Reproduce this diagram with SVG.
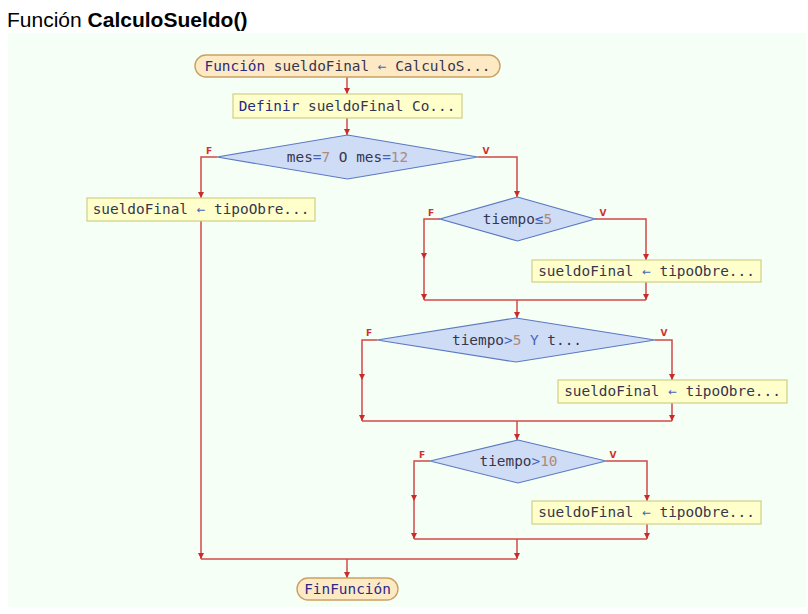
<svg xmlns="http://www.w3.org/2000/svg" width="808" height="614" viewBox="0 0 808 614">
<style>
.title{font-family:"Liberation Sans",Arial,sans-serif;font-size:21px;fill:#000}
.code{font-family:"DejaVu Sans Mono","Liberation Mono",monospace;font-size:14.4px;fill:#36364e;text-anchor:middle}
.kw{fill:#2a2a86}
.op{fill:#4664bc}
.num{fill:#ad8a7a}
.box{fill:#ffffcc;stroke:#cfcf86;stroke-width:1.2}
.dec{fill:#cfdcf6;stroke:#5b79c2;stroke-width:1.2}
.term{fill:#fde9c4;stroke:#c9a262;stroke-width:1.4}
.lbl{font-family:"DejaVu Sans","Liberation Sans",sans-serif;font-size:9px;font-weight:bold;fill:#d03030;text-anchor:middle}
.ln{fill:none;stroke:#d24848;stroke-width:1.5}
.a{marker-end:url(#arr)}
</style>
<defs>
<marker id="arr" viewBox="0 0 8 8" refX="8" refY="4" markerWidth="6" markerHeight="6" markerUnits="userSpaceOnUse" orient="auto">
<path d="M0,0 L8,4 L0,8 z" fill="#c92a2a"/>
</marker>
</defs>
<rect x="0" y="0" width="808" height="614" fill="#ffffff"/>
<rect x="8" y="33" width="798" height="574" fill="#f6fff6"/>
<text class="title" x="7" y="27">Función <tspan font-weight="bold">CalculoSueldo()</tspan></text>

<g id="connectors">
<path class="ln a" d="M347,77 L347,94"/>
<path class="ln a" d="M347,118 L347,135"/>
<path class="ln a" d="M217,157 L201,157 L201,198"/>
<path class="ln a" d="M478,157 L517,157 L517,197"/>
<path class="ln a" d="M201,221 L201,559"/>
<path class="ln a" d="M440,219 L424,219 L424,259"/>
<path class="ln a" d="M424,259 L424,300"/>
<path class="ln a" d="M595,219 L646,219 L646,260"/>
<path class="ln a" d="M646,282 L646,300"/>
<path class="ln" d="M424,300 L646,300"/>
<path class="ln a" d="M517,300 L517,318"/>
<path class="ln a" d="M377,340 L362,340 L362,380"/>
<path class="ln a" d="M362,380 L362,421"/>
<path class="ln a" d="M655,340 L672,340 L672,380"/>
<path class="ln a" d="M672,403 L672,421"/>
<path class="ln" d="M362,421 L672,421"/>
<path class="ln a" d="M517,421 L517,440"/>
<path class="ln a" d="M430,461 L414,461 L414,501"/>
<path class="ln a" d="M414,501 L414,539"/>
<path class="ln a" d="M606,461 L647,461 L647,501"/>
<path class="ln a" d="M647,524 L647,539"/>
<path class="ln" d="M414,539 L647,539"/>
<path class="ln a" d="M517,539 L517,559"/>
<path class="ln" d="M201,559 L517,559"/>
<path class="ln a" d="M347,559 L347,578"/>
<text class="lbl" x="209" y="154">F</text>
<text class="lbl" x="486" y="154">V</text>
<text class="lbl" x="431" y="216">F</text>
<text class="lbl" x="603" y="216">V</text>
<text class="lbl" x="369" y="336">F</text>
<text class="lbl" x="664" y="336">V</text>
<text class="lbl" x="422" y="458">F</text>
<text class="lbl" x="613" y="458">V</text>
</g>

<g id="start">
<rect class="term" x="195" y="55" width="305" height="22" rx="11" ry="11"/>
<text class="code" x="347.5" y="71"><tspan class="kw">Función</tspan> sueldoFinal <tspan class="op">←</tspan> CalculoS...</text>
</g>
<g id="definir">
<rect class="box" x="233" y="94" width="229" height="24"/>
<text class="code" x="347" y="111"><tspan class="kw">Definir</tspan> sueldoFinal Co...</text>
</g>
<g id="cond1">
<polygon class="dec" points="347.5,135 478,157 347.5,179 217,157"/>
<text class="code" x="347.5" y="162">mes<tspan class="op">=</tspan><tspan class="num">7</tspan> O mes<tspan class="op">=</tspan><tspan class="num">12</tspan></text>
</g>
<g id="asig1">
<rect class="box" x="87" y="198" width="228" height="23"/>
<text class="code" x="201" y="214">sueldoFinal <tspan class="op">←</tspan> tipoObre...</text>
</g>
<g id="cond2">
<polygon class="dec" points="517.5,197 595,219 517.5,241 440,219"/>
<text class="code" x="517.5" y="224">tiempo<tspan class="op">≤</tspan><tspan class="num">5</tspan></text>
</g>
<g id="asig2">
<rect class="box" x="532" y="260" width="229" height="22"/>
<text class="code" x="646.5" y="276">sueldoFinal <tspan class="op">←</tspan> tipoObre...</text>
</g>
<g id="cond3">
<polygon class="dec" points="516,318 655,340 516,362 377,340"/>
<text class="code" x="517" y="345">tiempo<tspan class="op">&gt;</tspan><tspan class="num">5</tspan> <tspan class="op">Y</tspan> t...</text>
</g>
<g id="asig3">
<rect class="box" x="558" y="380" width="229" height="23"/>
<text class="code" x="672.5" y="396">sueldoFinal <tspan class="op">←</tspan> tipoObre...</text>
</g>
<g id="cond4">
<polygon class="dec" points="518,440 606,461 518,483 430,461"/>
<text class="code" x="518.5" y="466">tiempo<tspan class="op">&gt;</tspan><tspan class="num">10</tspan></text>
</g>
<g id="asig4">
<rect class="box" x="532" y="501" width="229" height="23"/>
<text class="code" x="646.5" y="517">sueldoFinal <tspan class="op">←</tspan> tipoObre...</text>
</g>
<g id="end">
<rect class="term" x="297" y="578" width="101" height="22" rx="11" ry="11"/>
<text class="code" x="347.5" y="594"><tspan class="kw">FinFunción</tspan></text>
</g>
</svg>
